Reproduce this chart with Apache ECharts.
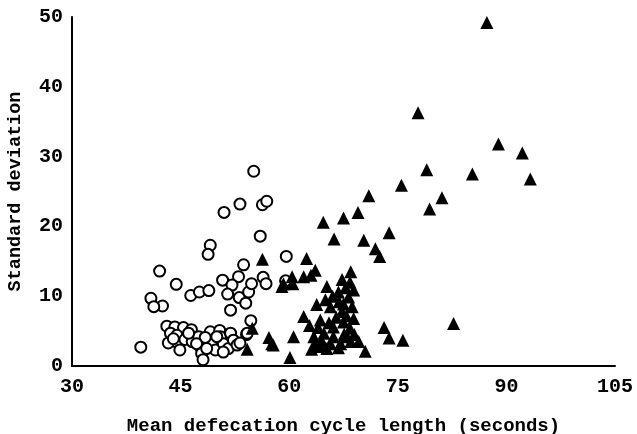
<!DOCTYPE html>
<html>
<head>
<meta charset="UTF-8">
<title></title>
<style>
  html,body{ margin:0px; height:100%; background:#fff; }
  #chart{ width:637px; height:434px; }
</style>
</head>
<body>
<div id="chart"></div>
<script src="https://cdn.jsdelivr.net/npm/echarts@6/dist/echarts.min.js"></script>
<script>
// x ticks / y ticks
var xTicks = [30, 45, 60, 75, 90, 105];
var yTicks = [0, 10, 20, 30, 40, 50];

// open circles: [mean cycle length, standard deviation]
var circlePoints = [
  [55.1,27.9],[53.2,23.2],[51.0,22.0],[56.3,23.1],[56.9,23.6],[56.0,18.6],[49.1,17.3],[48.8,16.0],
  [53.7,14.5],[42.1,13.6],[44.4,11.7],[46.4,10.1],[47.6,10.6],[48.9,10.8],[40.9,9.7],[42.5,8.6],
  [41.3,8.5],[50.8,12.3],[53.0,12.8],[52.1,11.6],[51.5,10.3],[53.1,9.8],[54.4,10.6],[54.8,11.8],
  [54.0,9.0],[51.9,8.0],[56.4,12.7],[56.8,11.8],[59.6,15.7],[59.5,12.2],[54.7,6.5],[54.1,4.5],
  [39.5,2.7],
  [43.1,5.7],[44.2,5.6],[45.4,5.5],[43.6,4.7],[44.5,4.4],[43.3,3.3],[44.7,3.2],[44.9,2.3],
  [45.6,3.8],[46.5,5.2],[46.6,3.5],[47.5,4.2],[47.7,2.8],[47.9,1.8],[48.1,0.9],[49.1,4.9],
  [49.3,3.5],[49.8,2.3],[50.4,5.1],[50.5,4.2],[50.9,3.2],[51.6,2.5],[51.9,4.7],[52.3,3.7],
  [52.8,3.0],[53.2,3.3],[54.2,4.7],[48.4,4.1],[46.1,4.7],[50.0,4.2],[48.6,2.5],[47.2,3.2],
  [50.9,2.0],[44.0,3.9]
];

// filled triangles
var trianglePoints = [
  [87.3,49.2],[77.8,36.3],[88.9,31.8],[92.2,30.5],[79.0,28.1],[85.3,27.5],[93.3,26.8],[75.5,25.9],
  [81.1,24.1],[71.0,24.4],[79.4,22.5],[64.7,20.6],[67.5,21.2],[69.5,22.0],[66.2,18.2],[70.3,18.0],
  [73.8,19.1],[71.9,16.8],[72.5,15.7],[56.3,15.3],[62.4,15.4],[63.6,13.7],[63.0,13.0],[62.0,12.8],
  [60.4,12.8],[59.2,11.8],[59.0,11.4],[60.5,11.8],[68.5,13.5],[67.3,12.4],[68.4,12.0],[65.2,11.4],
  [68.9,10.9],[66.8,10.6],[68.2,9.9],[63.8,8.8],[65.7,8.5],[67.5,8.9],[68.7,8.5],[62.0,7.1],
  [67.3,7.8],[64.3,6.6],[66.1,5.6],[67.5,6.3],[68.4,5.4],[63.4,4.2],[64.8,4.7],[66.1,4.2],
  [68.0,4.2],[69.6,3.5],[70.5,2.1],[63.1,2.4],[64.3,2.8],[65.7,3.2],[67.1,3.2],[68.5,3.5],
  [73.1,5.5],[73.8,4.0],[75.7,3.7],[82.7,6.1],[60.6,4.2],[60.1,1.2],[57.6,3.2],[57.2,4.1],
  [57.8,3.0],[54.9,5.4],[54.2,2.4],[65.0,9.5],[66.5,7.0],[64.0,5.5],[66.8,2.6],[69.0,4.5],
  [64.5,3.6],[65.5,6.2],[66.9,9.2],[67.9,7.2],[68.9,6.8],[63.5,3.0],[65.2,2.5],[67.6,4.6],
  [66.0,10.0],[67.8,11.2],[62.8,5.8]
];

var font = '"Liberation Mono", "DejaVu Sans Mono", monospace';
var chart = echarts.init(document.getElementById('chart'), null, {renderer: 'canvas'});

chart.setOption({
  backgroundColor: '#fff',
  animation: false,
  grid: { left: 72, right: 22, top: 17, bottom: 68, outerBoundsMode: 'none', containLabel: false },
  xAxis: {
    type: 'value',
    min: xTicks[0],
    max: xTicks[xTicks.length - 1],
    interval: 15,
    name: 'Mean defecation cycle length (seconds)',
    nameLocation: 'middle',
    nameGap: 51,
    nameTextStyle: { fontFamily: font, fontWeight: 'bold', fontSize: 19, color: '#000' },
    axisLine: { lineStyle: { color: '#000', width: 2 } },
    axisTick: { show: false },
    splitLine: { show: false },
    axisLabel: { fontFamily: font, fontWeight: 'bold', fontSize: 20, color: '#000', margin: 11 }
  },
  yAxis: {
    type: 'value',
    min: yTicks[0],
    max: yTicks[yTicks.length - 1],
    interval: 10,
    name: 'Standard deviation',
    nameLocation: 'middle',
    nameGap: 47,
    nameTextStyle: { fontFamily: font, fontWeight: 'bold', fontSize: 18.5, color: '#000' },
    axisLine: { lineStyle: { color: '#000', width: 2 } },
    axisTick: { show: false },
    splitLine: { show: false },
    axisLabel: { fontFamily: font, fontWeight: 'bold', fontSize: 20, color: '#000', margin: 9 }
  },
  series: [
    {
      name: 'circles',
      type: 'scatter',
      symbol: 'circle',
      symbolSize: 11,
      itemStyle: { color: '#fff', borderColor: '#000', borderWidth: 2, opacity: 1 },
      data: circlePoints
    },
    {
      name: 'triangles',
      type: 'scatter',
      symbol: 'triangle',
      symbolSize: 13,
      itemStyle: { color: '#000', opacity: 1 },
      data: trianglePoints
    }
  ]
});
</script>
</body>
</html>
